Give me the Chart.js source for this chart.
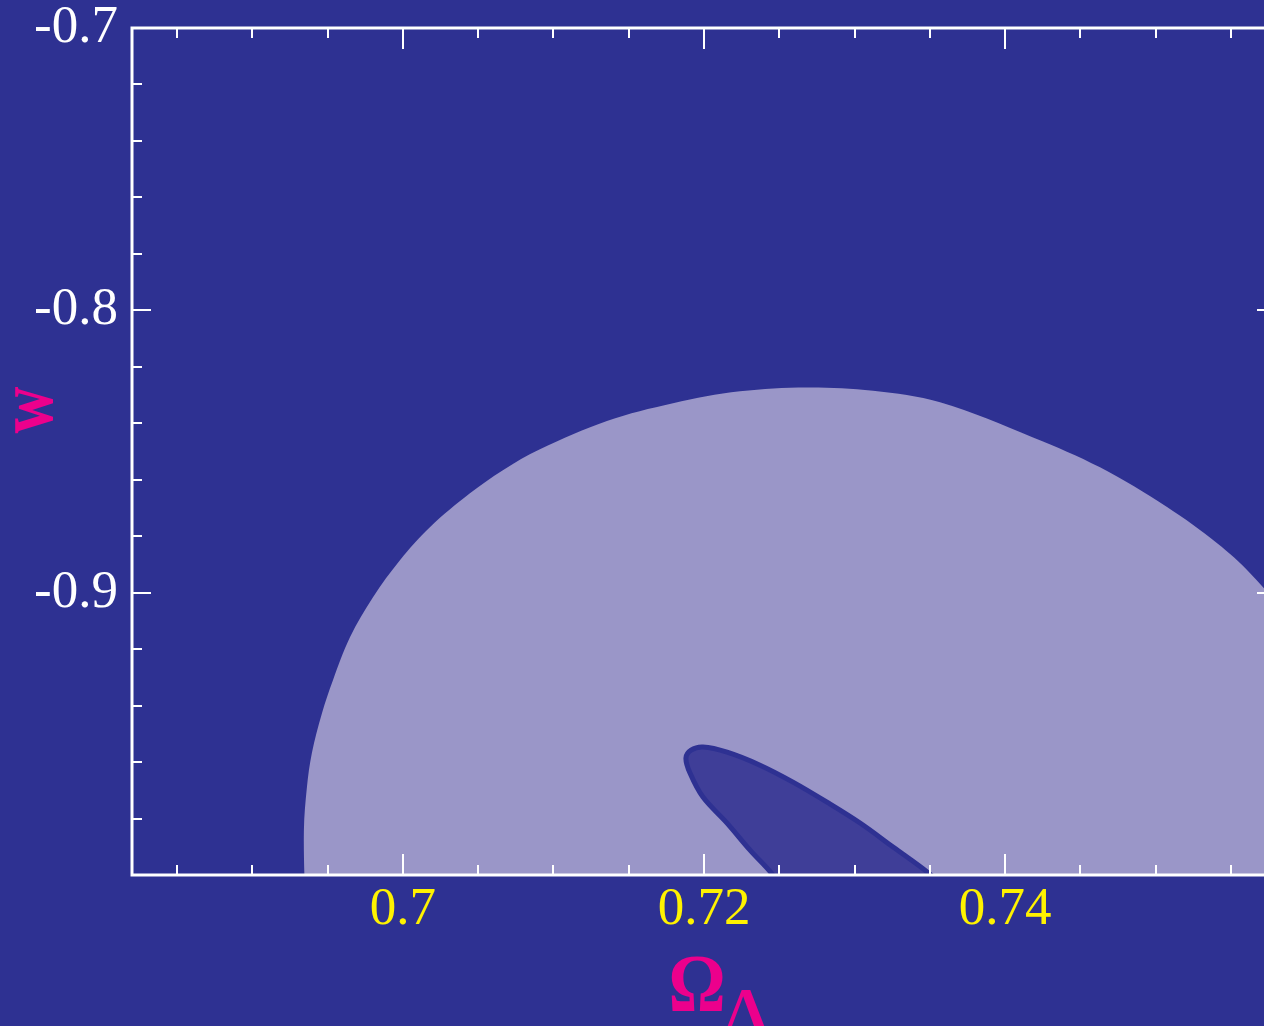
<!DOCTYPE html>
<html>
<head>
<meta charset="utf-8">
<script src="https://cdn.jsdelivr.net/npm/chart.js@4"></script>
<style>
  html, body { margin: 0; padding: 0; background: #2E3192; overflow: hidden; }
  #wrap { width: 1290px; height: 1026px; }
</style>
</head>
<body>
<div id="wrap"><canvas id="contour" width="1290" height="1026"></canvas></div>
<script>
// outer (light) contour, Omega_Lambda and w
const outerOmega = [0.69349, 0.69342, 0.69362, 0.69395, 0.69462, 0.69535, 0.69648, 0.69801, 0.69980,
  0.70179, 0.70445, 0.70664, 0.70910, 0.71355, 0.71794, 0.72239, 0.72684, 0.73123, 0.73568,
  0.74186, 0.74631, 0.75076, 0.75409, 0.75628, 0.75894, 0.76160, 0.76160];
const outerW = [-1.0089, -0.9841, -0.9689, -0.9568, -0.9427, -0.9310, -0.9158, -0.9016, -0.8885,
  -0.8768, -0.8648, -0.8566, -0.8492, -0.8392, -0.8329, -0.8287, -0.8273, -0.8285, -0.8326,
  -0.8450, -0.8556, -0.8697, -0.8825, -0.8931, -0.9097, -0.9310, -1.0089];

// inner (dark) contour
const innerOmega = [0.72571, 0.72458, 0.72306, 0.72153, 0.71993, 0.71907, 0.71880, 0.71914, 0.71993,
  0.72153, 0.72372, 0.72591, 0.72817, 0.73037, 0.73256, 0.73482, 0.73701];
const innerW = [-1.0089, -1.0000, -0.9912, -0.9816, -0.9724, -0.9639, -0.9586, -0.9558, -0.9547,
  -0.9565, -0.9611, -0.9671, -0.9742, -0.9816, -0.9901, -0.9989, -1.0089];

// axes
const xTicks = [0.70, 0.72, 0.74];
const xTickLabels = ['0.7', '0.72', '0.74'];
const yTicks = [-0.9, -0.8, -0.7];
const yTickLabels = ['-0.9', '-0.8', '-0.7'];

const toPoints = (xs, ys) => xs.map((x, i) => ({x: x, y: ys[i]}));

const BG = '#2E3192';
const MAGENTA = '#EC008C';

// frame, inward ticks and axis titles
const framePlugin = {
  id: 'frame',
  afterDatasetsDraw(chart) {
    const {ctx, chartArea: a, scales: {x, y}} = chart;
    ctx.save();
    ctx.strokeStyle = '#ffffff';
    ctx.lineCap = 'butt';
    ctx.lineWidth = 2;
    for (let k = 0; k <= 16; k++) {
      const v = +(0.68 + k * 0.005).toFixed(3);
      if (v <= x.min || v >= x.max) continue;
      const px = Math.round(x.getPixelForValue(v));
      const major = xTicks.some(t => Math.abs(t - v) < 1e-6);
      const len = major ? 21 : 10;
      ctx.beginPath();
      ctx.moveTo(px, a.bottom); ctx.lineTo(px, a.bottom - len);
      ctx.moveTo(px, a.top); ctx.lineTo(px, a.top + len);
      ctx.stroke();
    }
    for (let k = 1; k < 15; k++) {
      const v = +(-1.0 + k * 0.02).toFixed(2);
      const py = Math.round(y.getPixelForValue(v));
      const major = yTicks.some(t => Math.abs(t - v) < 1e-6);
      const len = major ? 19 : 10;
      ctx.beginPath();
      ctx.moveTo(a.left, py); ctx.lineTo(a.left + len, py);
      ctx.moveTo(a.right, py); ctx.lineTo(a.right - len, py);
      ctx.stroke();
    }
    ctx.lineWidth = 3;
    ctx.strokeRect(a.left, a.top, a.right - a.left, a.bottom - a.top);

    // axis titles
    ctx.fillStyle = MAGENTA;
    ctx.textAlign = 'center';
    ctx.textBaseline = 'middle';
    ctx.save();
    ctx.translate(37, 410);
    ctx.rotate(-Math.PI / 2);
    ctx.scale(0.81, 1);
    ctx.font = 'bold 80px "Liberation Serif", serif';
    ctx.fillText('w', 0, -6);
    ctx.restore();

    ctx.save();
    ctx.textBaseline = 'alphabetic';
    ctx.translate(697, 1011);
    ctx.scale(0.87, 1);
    ctx.font = 'bold 82px "Liberation Serif", serif';
    ctx.fillText('Ω', 0, 0);
    ctx.restore();
    ctx.save();
    ctx.textBaseline = 'alphabetic';
    ctx.font = 'bold 60px "Liberation Serif", serif';
    ctx.fillText('Λ', 746, 1029);
    ctx.restore();
    ctx.restore();
  }
};

new Chart(document.getElementById('contour'), {
  type: 'scatter',
  data: {
    datasets: [
      {
        label: 'inner',
        data: toPoints(innerOmega, innerW),
        showLine: true,
        fill: 'shape',
        tension: 0.35,
        pointRadius: 0,
        borderColor: BG,
        borderWidth: 5,
        backgroundColor: '#3F3E98',
        order: 0
      },
      {
        label: 'outer',
        data: toPoints(outerOmega, outerW),
        showLine: true,
        fill: 'shape',
        tension: 0.35,
        pointRadius: 0,
        borderWidth: 0,
        borderColor: 'rgba(0,0,0,0)',
        backgroundColor: '#9A96C8',
        order: 1
      }
    ]
  },
  options: {
    responsive: false,
    animation: false,
    layout: { padding: { top: 28, right: 14, left: 0, bottom: 0 } },
    plugins: { legend: { display: false }, tooltip: { enabled: false } },
    scales: {
      x: {
        type: 'linear',
        min: 0.682,
        max: 0.758,
        grid: { display: false, drawTicks: false },
        border: { display: false },
        afterFit: axis => { axis.height = 151; axis.paddingLeft = 0; axis.paddingRight = 0; },
        afterBuildTicks: axis => { axis.ticks = xTicks.map(v => ({value: v})); },
        ticks: {
          color: '#FFF200',
          padding: 9,
          maxRotation: 0,
          autoSkip: false,
          font: { family: '"Liberation Serif", serif', size: 53, lineHeight: 1 },
          callback: (v) => xTickLabels[xTicks.findIndex(t => Math.abs(t - v) < 1e-6)]
        }
      },
      y: {
        type: 'linear',
        min: -1.0,
        max: -0.7,
        grid: { display: false, drawTicks: false },
        border: { display: false },
        afterFit: axis => { axis.width = 132; axis.paddingTop = 0; axis.paddingBottom = 0; },
        afterBuildTicks: axis => { axis.ticks = yTicks.map(v => ({value: v})); },
        ticks: {
          color: '#ffffff',
          padding: 14,
          autoSkip: false,
          font: { family: '"Liberation Serif", serif', size: 53, lineHeight: 1 },
          callback: (v) => yTickLabels[yTicks.findIndex(t => Math.abs(t - v) < 1e-6)]
        }
      }
    }
  },
  plugins: [framePlugin]
});
</script>
</body>
</html>
